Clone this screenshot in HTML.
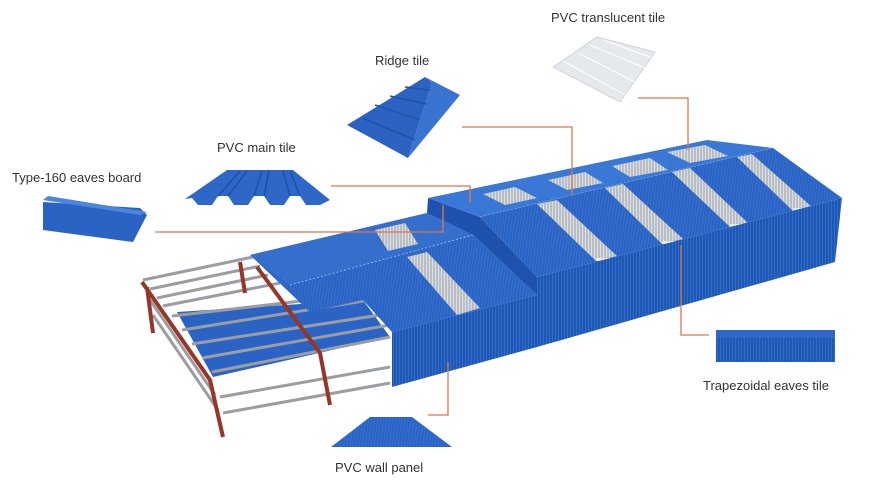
<!DOCTYPE html>
<html><head><style>
body{margin:0;background:#fff;}
.w{position:relative;width:874px;height:486px;overflow:hidden;font-family:"Liberation Sans",sans-serif;}
.t{position:absolute;font-size:13px;color:#333;white-space:nowrap;}
</style></head><body><div class="w">
<svg width="874" height="486" viewBox="0 0 874 486" style="position:absolute;left:0;top:0">
<defs>
<pattern id="vs" width="3" height="10" patternUnits="userSpaceOnUse"><rect width="3" height="10" fill="#1f57b4"/><rect width="1" height="10" fill="#2f6cc8"/></pattern>
<pattern id="rs" width="3" height="4" patternUnits="userSpaceOnUse" patternTransform="rotate(8)"><rect width="3" height="4" fill="#2a63c4"/><rect width="1" height="4" fill="#3570cf"/></pattern>
<pattern id="gs" width="3" height="3" patternUnits="userSpaceOnUse"><rect width="3" height="3" fill="#b9bec4"/><rect width="1" height="3" fill="#dcdfe2"/></pattern>
</defs>
<polygon points="177,312 363,300 390,337 213,377" fill="#2a63c4"/>
<g stroke="#9a9ea3" stroke-width="3">
<line x1="143" y1="280" x2="253" y2="257"/>
<line x1="150" y1="289" x2="260" y2="266"/>
<line x1="157" y1="298" x2="268" y2="275"/>
<line x1="163" y1="306" x2="280" y2="283"/>
<line x1="172" y1="316" x2="310" y2="300"/>
<line x1="182" y1="330" x2="370" y2="300"/>
<line x1="192" y1="344" x2="380" y2="315"/>
<line x1="202" y1="358" x2="390" y2="325"/>
<line x1="212" y1="372" x2="390" y2="337"/>
<line x1="220" y1="397" x2="390" y2="367"/>
<line x1="223" y1="413" x2="390" y2="383"/>
<line x1="150" y1="300" x2="215" y2="395"/>
<line x1="153" y1="315" x2="218" y2="410"/>
</g>
<g stroke="#963528" stroke-width="4" fill="none">
<polyline points="142,282 210,380 223,437"/>
<line x1="147" y1="287" x2="153" y2="333"/>
<polyline points="257,267 320,353 330,405"/>
<line x1="240" y1="262" x2="245" y2="293"/>
</g>
<polygon points="250,255 427,213 473,235 537,295 392,332 363,300 310,312" fill="url(#rs)"/>
<polygon points="250,255 427,213 473,235 290,285" fill="#3a77d4" opacity="0.55"/>
<polyline points="290,285 473,235" stroke="#8fb0e6" stroke-width="1" stroke-dasharray="2,2"/>
<polygon points="375,230 405,223 418,244 388,251" fill="url(#gs)"/>
<polygon points="407,257 427,252 480,308 457,315" fill="url(#gs)"/>
<polygon points="392,332 537,295 537,347 392,387" fill="url(#vs)"/>
<polygon points="428,198 480,217 537,277 537,295 473,235 427,213" fill="#1e52ae"/>
<polygon points="428,198 707,140 773,148 480,217" fill="#3a78d6"/>
<g fill="url(#gs)">
<polygon points="483,194 515,187 537,198 505,205"/>
<polygon points="548,180 585,172 603,183 567,190"/>
<polygon points="612,166 650,158 668,170 630,177"/>
<polygon points="667,152 705,145 728,156 690,163"/>
</g>
<polyline points="480,217 773,148" stroke="#9ab8ea" stroke-width="1" stroke-dasharray="2,2"/>
<polygon points="480,217 773,148 842,198 537,277" fill="url(#rs)"/>
<g fill="url(#gs)">
<polygon points="537,204 557,200 617,256 596,261"/>
<polygon points="605,188 623,184 683,239 662,244"/>
<polygon points="672,172 690,168 748,223 730,227"/>
<polygon points="737,157 752,154 812,207 793,211"/>
</g>
<g fill="#e8ecf2"><rect x="596" y="258" width="20" height="3"/><rect x="662" y="241" width="20" height="3"/><rect x="730" y="224" width="18" height="3"/><rect x="793" y="208" width="18" height="3"/></g>
<polygon points="537,277 842,198 835,262 537,347" fill="url(#vs)"/>
<g stroke="#e0764a" stroke-width="1.3" fill="none">
<polyline points="638,98 688,98 688,150"/>
<polyline points="462,127 572,127 572,195"/>
<polyline points="331,186 470,186 470,203"/>
<polyline points="155,232 443,232 443,205"/>
<polyline points="681,245 681,335 709,335"/>
<polyline points="448,362 448,415 428,415"/>
</g>
<!-- translucent tile -->
<polygon points="553,67 597,37 655,52 620,102" fill="#e6e9ec" stroke="#d0d4d8"/>
<g stroke="#fafbfc" stroke-width="1.2"><line x1="565" y1="62" x2="625" y2="95"/><line x1="578" y1="53" x2="635" y2="82"/><line x1="590" y1="45" x2="645" y2="68"/><line x1="603" y1="40" x2="650" y2="57"/></g>
<!-- ridge tile -->
<polygon points="347,125 425,77 432,83 408,158" fill="#2c63c2"/>
<polygon points="425,77 460,95 408,158 432,83" fill="#3a74d2"/>
<g stroke="#1f52a8" stroke-width="1.5"><line x1="362" y1="118" x2="415" y2="140"/><line x1="375" y1="105" x2="420" y2="120"/><line x1="390" y1="96" x2="426" y2="104"/><line x1="405" y1="87" x2="430" y2="90"/></g>
<!-- main tile -->
<polygon points="185,199 227,170 293,170 330,200 320,205 306,205 300,196 290,196 284,205 270,205 264,196 254,196 248,205 234,205 228,196 218,196 212,205 198,205 192,198" fill="#2f67c8"/>
<g stroke="#1d4fa5" stroke-width="1.5"><line x1="218" y1="196" x2="240" y2="171"/><line x1="254" y1="196" x2="262" y2="171"/><line x1="290" y1="196" x2="283" y2="171"/><line x1="228" y1="196" x2="247" y2="171"/><line x1="264" y1="196" x2="269" y2="171"/><line x1="300" y1="196" x2="290" y2="171"/></g>
<!-- eaves board -->
<polygon points="43,202 140,208 147,215 133,242 43,230" fill="#2a63c4"/>
<polygon points="43,200 48,196 147,212 140,215" fill="#4a86de"/>
<rect x="716" y="332" width="119" height="30" fill="url(#vs)"/>
<rect x="716" y="330" width="119" height="8" fill="#2f67c8"/>
<polygon points="331,447 370,417 412,417 452,447" fill="url(#rs)"/>
</svg>
<div class="t" style="left:551px;top:10px">PVC translucent tile</div>
<div class="t" style="left:375px;top:53px">Ridge tile</div>
<div class="t" style="left:217px;top:140px">PVC main tile</div>
<div class="t" style="left:12px;top:170px">Type-160 eaves board</div>
<div class="t" style="left:703px;top:378px">Trapezoidal eaves tile</div>
<div class="t" style="left:335px;top:460px">PVC wall panel</div>
</div></body></html>
